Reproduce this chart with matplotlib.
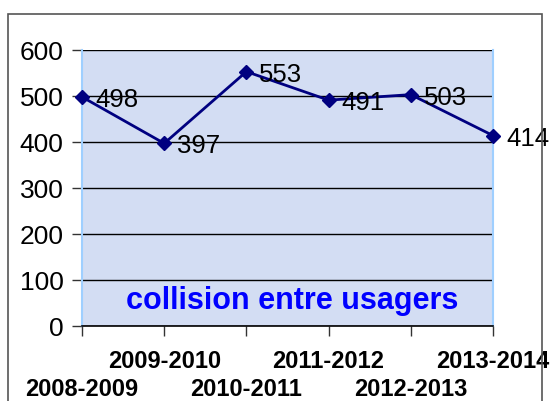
import matplotlib.pyplot as plt
from matplotlib.patches import Rectangle

saisons = ["2008-2009", "2009-2010", "2010-2011", "2011-2012", "2012-2013", "2013-2014"]
collisions = [498, 397, 553, 491, 503, 414]
y_ticks = [0, 100, 200, 300, 400, 500, 600]

plt.rcParams['font.family'] = ['Liberation Sans', 'DejaVu Sans']

W, H = 553, 401
fig = plt.figure(figsize=(W / 100, H / 100), dpi=100)

# cadre exterieur du graphique
fig.patches.append(Rectangle((8 / W, -0.1), (542 - 8) / W, 1.1 - 14 / H,
                             transform=fig.transFigure, fill=False,
                             edgecolor='#555555', linewidth=1.2))

ax = fig.add_axes([82 / W, 1 - 326 / H, (493 - 82) / W, (326 - 50) / H])
ax.set_facecolor('#d3ddf3')

x = list(range(len(saisons)))
ax.plot(x, collisions, color='#000080', linewidth=2, marker='D',
        markersize=7, markerfacecolor='#000080', markeredgecolor='#000080',
        zorder=4, clip_on=False)

for xi, v in zip(x, collisions):
    ax.annotate(str(v), (xi, v), xytext=(13, -3), textcoords='offset pixels',
                ha='left', va='center', fontsize=18.5, color='black', zorder=5)

ax.set_xlim(0, 5)
ax.set_ylim(0, 600)
ax.set_yticks(y_ticks)
ax.yaxis.grid(True, color='black', linewidth=1)
ax.set_axisbelow(True)

# etiquettes en quinconce sur deux lignes
ax.set_xticks(x)
ax.set_xticklabels([])
for i, s in enumerate(saisons):
    dy = -63 if i % 2 == 0 else -36
    ax.annotate(s, (i, 0), xycoords=('data', 'axes fraction'),
                xytext=(0, dy), textcoords='offset pixels',
                ha='center', va='center', fontsize=17, fontweight='bold',
                annotation_clip=False)

ax.tick_params(axis='y', direction='out', length=7.2, width=1, color='#333333',
               labelsize=19, pad=6)
ax.tick_params(axis='x', direction='out', length=7.2, width=1, color='#333333')

for side in ['left', 'right']:
    ax.spines[side].set_color('#9fcfff')
    ax.spines[side].set_linewidth(1.5)
ax.spines['top'].set_visible(False)
ax.spines['bottom'].set_color('black')
ax.spines['bottom'].set_linewidth(1.2)

ax.text(0.512, 0.09, "collision entre usagers", transform=ax.transAxes,
        ha='center', va='center', fontsize=22, fontweight='bold',
        color='#0000ff')

fig.savefig("out.png", dpi=100)
